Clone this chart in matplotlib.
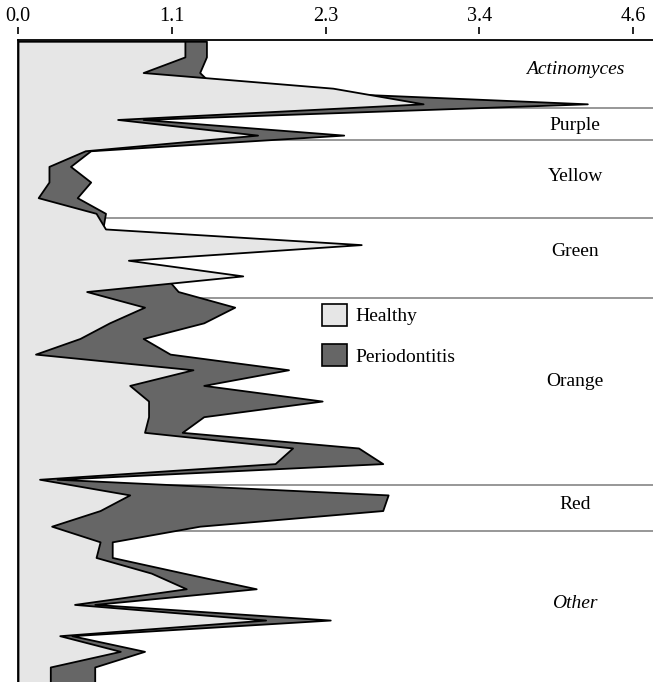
import numpy as np
import matplotlib.pyplot as plt
from matplotlib.patches import Patch
from matplotlib.ticker import FormatStrFormatter

# relative abundance per taxon (top to bottom)
healthy = [1.24, 1.24, 0.93, 2.34, 3.01, 0.74, 1.78, 0.50, 0.23, 0.23,
           0.15, 0.58, 0.65, 2.55, 0.82, 1.67, 0.51, 0.94, 0.68, 0.46,
           0.13, 1.30, 0.83, 0.97, 0.97, 0.94, 2.04, 1.91, 0.16, 0.83,
           0.61, 0.25, 0.61, 0.58, 0.99, 1.25, 0.42, 1.84, 0.31, 0.76,
           0.24, 0.24]
periodontitis = [1.40, 1.40, 1.35, 1.47, 4.23, 0.93, 2.42, 0.54, 0.39, 0.54,
                 0.44, 0.65, 0.63, 1.35, 0.68, 1.09, 1.19, 1.61, 1.38, 0.93,
                 1.13, 2.01, 1.38, 2.26, 1.38, 1.22, 2.53, 2.71, 0.29, 2.75,
                 2.71, 1.35, 0.70, 0.70, 1.23, 1.77, 0.57, 2.32, 0.40, 0.94,
                 0.57, 0.57]

groups = ['Actinomyces', 'Purple', 'Yellow', 'Green', 'Orange', 'Red', 'Other']
group_bounds = [4.27, 6.32, 11.32, 16.41, 28.37, 31.31]
label_y = [1.8, 5.4, 8.65, 13.45, 21.75, 29.6, 35.95]
italic_groups = ['Actinomyces', 'Other']
x_max = 4.57

light = '#e6e6e6'
dark = '#666666'

taxa = np.arange(len(healthy))

plt.rcParams['font.family'] = ['Liberation Serif', 'DejaVu Serif']
fig = plt.figure(figsize=(6.53, 6.82), dpi=100)
ax = fig.add_axes([18 / 653, 0, 635 / 653, 642 / 682])

ymin, ymax = 40.96, -0.08
ax.set_xlim(0, 4.718)
ax.set_ylim(ymin, ymax)

# group separators sit under the areas
for b in group_bounds:
    ax.axhline(b, color='#8f8f8f', lw=1.3, zorder=1)

ax.fill_betweenx(taxa, 0, periodontitis, facecolor=dark, edgecolor='black',
                 lw=1.3, zorder=2)
ax.fill_betweenx(taxa, 0, healthy, facecolor=light, edgecolor='black',
                 lw=1.3, zorder=3)

# group names on the right
for name, y in zip(groups, label_y):
    style = 'italic' if name in italic_groups else 'normal'
    ax.text(4.14, y, name, ha='center', va='center',
            fontsize=14, style=style, zorder=4)

# axis drawn slightly detached from the top frame line
ax.xaxis.tick_top()
ax.spines['top'].set_position(('outward', 4))
ax.spines['top'].set_visible(False)
ax.axhline(ymax, color='black', lw=1.3, clip_on=False, zorder=5)
ax.set_xticks(np.linspace(0, x_max, 5))
ax.xaxis.set_major_formatter(FormatStrFormatter('%.1f'))
ax.tick_params(axis='x', direction='out', length=5, width=1.2, pad=1,
               labelsize=14.5)
ax.set_yticks([])
ax.spines['right'].set_visible(False)
ax.spines['bottom'].set_visible(False)
ax.spines['left'].set_linewidth(1.3)

handles = [Patch(facecolor=light, edgecolor='black', lw=1.2, label='Healthy'),
           Patch(facecolor=dark, edgecolor='black', lw=1.2, label='Periodontitis')]
ax.legend(handles=handles, loc='upper left', bbox_to_anchor=(0.4787, 0.5888),
          frameon=False, fontsize=14, handlelength=1.3, handleheight=1.35,
          handletextpad=0.4, labelspacing=0.95, borderpad=0, borderaxespad=0)

fig.savefig('out.png', dpi=100)
